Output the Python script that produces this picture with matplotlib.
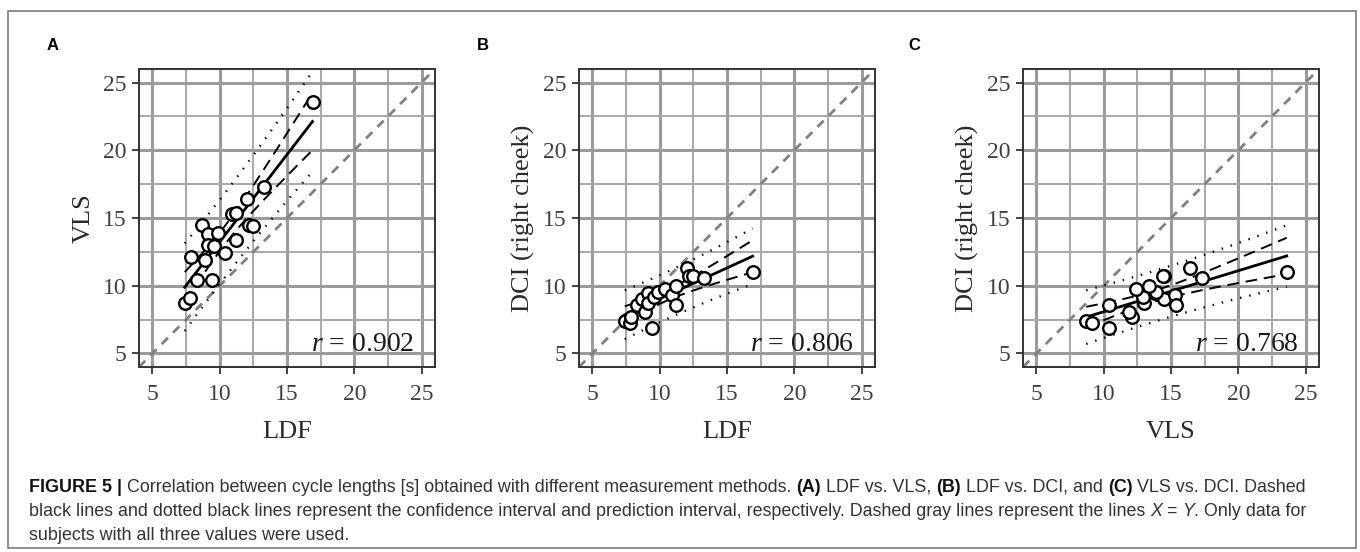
import numpy as np
import matplotlib.pyplot as plt
from matplotlib.patches import Rectangle
from matplotlib.ticker import MultipleLocator

plt.rcParams["mathtext.fontset"] = "custom"
plt.rcParams["mathtext.it"] = "Liberation Serif:italic"
plt.rcParams["mathtext.rm"] = "Liberation Serif"

# ---- cycle lengths [s] per subject ----
ldf = [7.4, 7.8, 7.9, 8.3, 8.7, 8.9, 9.1, 9.1, 9.4, 9.6, 9.9, 10.4, 10.9, 11.2, 11.2, 12.0, 12.2, 12.5, 13.3, 16.9]
vls = [8.7, 9.1, 12.1, 10.4, 14.5, 11.9, 13.8, 13.0, 10.4, 12.9, 13.9, 12.4, 15.3, 13.4, 15.4, 16.4, 14.5, 14.4, 17.3, 23.6]
dci = [7.4, 7.25, 7.7, 8.6, 9.05, 8.07, 9.44, 8.75, 6.9, 9.2, 9.5, 9.75, 9.3, 10.0, 8.57, 11.3, 10.7, 10.75, 10.6, 11.0]

panel_letters = ["A", "B", "C"]
x_labels = ["LDF", "LDF", "VLS"]
y_labels = ["VLS", "DCI (right cheek)", "DCI (right cheek)"]
r_labels = ["0.902", "0.806", "0.768"]
ticks = [5, 10, 15, 20, 25]

pairs = [(ldf, vls), (ldf, dci), (vls, dci)]

W, H = 1360, 552
T_CRIT = 2.10  # t(0.975, n-2) for ~20 subjects

SERIF = ["Liberation Serif", "DejaVu Serif"]
SANS = ["Liberation Sans", "DejaVu Sans"]


def fit_bands(x, y):
    # least squares line with confidence and prediction bands
    x = np.asarray(x, float)
    y = np.asarray(y, float)
    n = len(x)
    b, a = np.polyfit(x, y, 1)
    xs = np.linspace(x.min(), x.max(), 100)
    yhat = a + b * xs
    s = np.sqrt(np.sum((y - (a + b * x)) ** 2) / (n - 2))
    sxx = np.sum((x - x.mean()) ** 2)
    ci = T_CRIT * s * np.sqrt(1 / n + (xs - x.mean()) ** 2 / sxx)
    pi = T_CRIT * s * np.sqrt(1 + 1 / n + (xs - x.mean()) ** 2 / sxx)
    return xs, yhat, ci, pi


fig = plt.figure(figsize=(W / 100, H / 100), dpi=100, facecolor="white")

# outer frame of the figure box
fig.patches.append(Rectangle((8 / W, 1 - 548 / H), (1356 - 8) / W, (548 - 10.5) / H,
                             transform=fig.transFigure, fill=False,
                             edgecolor="#7a7a7a", lw=1.2))

lefts = [139, 579, 1023]
ax_w, ax_top, ax_bot = 296, 69, 367
letter_x = [53, 483, 914]

for i, (xv, yv) in enumerate(pairs):
    ax = fig.add_axes([lefts[i] / W, 1 - ax_bot / H, ax_w / W, (ax_bot - ax_top) / H])
    ax.set_xlim(4, 26)
    ax.set_ylim(4, 26)
    ax.set_xticks(ticks)
    ax.set_yticks(ticks)
    ax.xaxis.set_minor_locator(MultipleLocator(2.5))
    ax.yaxis.set_minor_locator(MultipleLocator(2.5))
    ax.set_axisbelow(True)
    ax.grid(which="major", color="#9b9b9b", lw=2.2)
    ax.grid(which="minor", color="#a8a8a8", lw=1.4)
    ax.tick_params(which="minor", length=0)
    ax.tick_params(which="major", direction="out", length=5, width=1.3,
                   color="#333333", labelsize=17, labelcolor="#404040", pad=4)
    ax.tick_params(axis="x", which="major", pad=7)
    for lab in ax.get_xticklabels() + ax.get_yticklabels():
        lab.set_family(SERIF)
    for sp in ax.spines.values():
        sp.set_color("#333333")
        sp.set_linewidth(1.4)

    # X = Y reference line
    ax.plot([4, 26], [4, 26], color="#808080", lw=2.0, ls=(0, (3.2, 2.6)), zorder=2)

    xs, yhat, ci, pi = fit_bands(xv, yv)
    ax.plot(xs, yhat + pi, color="black", lw=1.7, ls=(0, (0.6, 3.4)), zorder=3)
    ax.plot(xs, yhat - pi, color="black", lw=1.7, ls=(0, (0.6, 3.4)), zorder=3)
    ax.plot(xs, yhat + ci, color="black", lw=1.4, ls=(0, (6, 3.5)), zorder=3)
    ax.plot(xs, yhat - ci, color="black", lw=1.4, ls=(0, (6, 3.5)), zorder=3)
    ax.plot(xs, yhat, color="black", lw=2.0, zorder=4)
    ax.scatter(xv, yv, s=82, facecolor="white", edgecolor="black", linewidth=1.7, zorder=5)

    ax.text(0.93, 0.055, r"$r$ = " + r_labels[i], transform=ax.transAxes,
            ha="right", va="baseline", fontsize=20, family=SERIF, color="#1a1a1a")
    ax.set_xlabel(x_labels[i], fontsize=19, family=SERIF, color="#2a2a2a", labelpad=12)
    ax.set_ylabel(y_labels[i], fontsize=19, family=SERIF, color="#2a2a2a", labelpad=6)

    fig.text(letter_x[i] / W, 1 - 46 / H, panel_letters[i], fontsize=12,
             fontweight="bold", family=SANS, ha="center", va="center")

# ---- caption, drawn piece by piece so bold / italic runs line up ----
caption = [
    [("FIGURE 5 | ", "bold", "normal"),
     ("Correlation between cycle lengths [s] obtained with different measurement methods. ", "normal", "normal"),
     ("(A)", "bold", "normal"), (" LDF vs. VLS, ", "normal", "normal"),
     ("(B)", "bold", "normal"), (" LDF vs. DCI, and ", "normal", "normal"),
     ("(C)", "bold", "normal"), (" VLS vs. DCI. Dashed", "normal", "normal")],
    [("black lines and dotted black lines represent the confidence interval and prediction interval, "
      "respectively. Dashed gray lines represent the lines ", "normal", "normal"),
     ("X", "normal", "italic"), (" = ", "normal", "normal"), ("Y", "normal", "italic"),
     (". Only data for", "normal", "normal")],
    [("subjects with all three values were used.", "normal", "normal")],
]
cap_y = [487, 511, 535]
renderer = fig.canvas.get_renderer()
for line, yy in zip(caption, cap_y):
    x = 29
    for txt, weight, style in line:
        t = fig.text(x / W, 1 - yy / H, txt, fontsize=12.9, family=SANS,
                     fontweight=weight, style=style, va="center", ha="left",
                     color="#111111" if weight == "bold" else "#333333")
        x += t.get_window_extent(renderer).width

fig.savefig("out.png", dpi=100, facecolor="white")
